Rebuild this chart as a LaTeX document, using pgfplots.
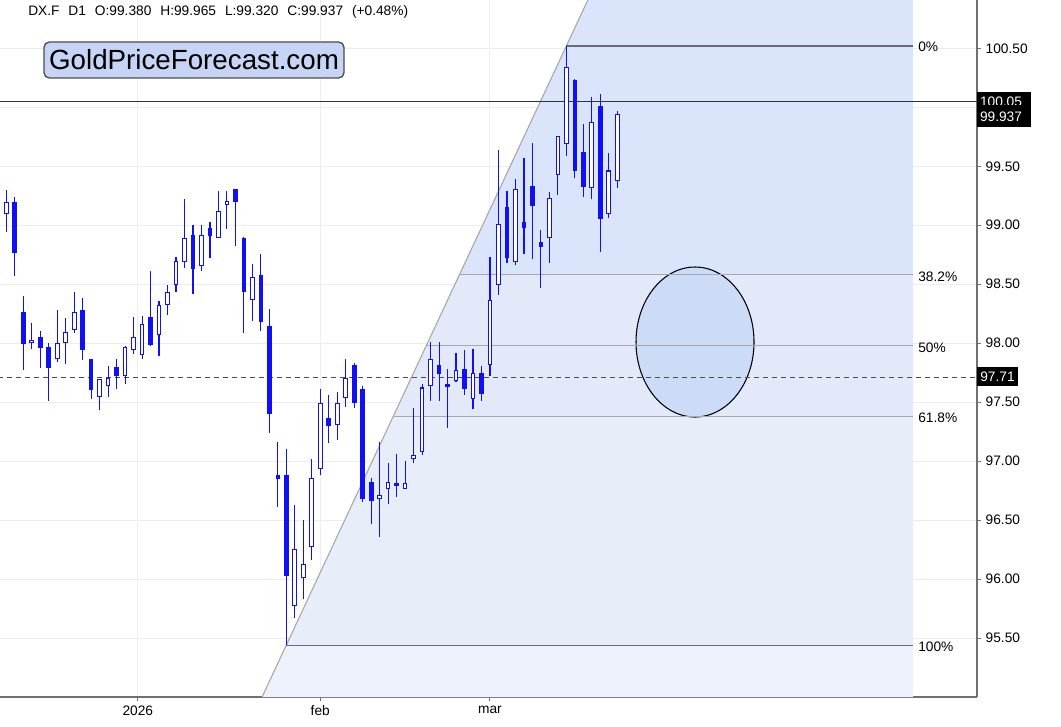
\documentclass[border=0pt]{standalone}
\usepackage{pgfplots}
\pgfplotsset{compat=1.18}
\usepackage{pgfplotstable}
\usepackage{fontspec}
\setmainfont{Liberation Sans}
\definecolor{cblue}{HTML}{1010F5}
\definecolor{bandA}{HTML}{DAE4FA}
\definecolor{bandB}{HTML}{E3E9F9}
\definecolor{bandC}{HTML}{E8EDFA}
\definecolor{bandD}{HTML}{EEF2FC}
\definecolor{ellfill}{HTML}{CCDBF6}
\definecolor{logofill}{HTML}{C6D4F5}
\definecolor{axgray}{HTML}{707070}
\definecolor{fibgray}{HTML}{A4A8B4}
\definecolor{fibdark}{HTML}{6A6A78}

% up (hollow) candles
\pgfplotstableread{
i O H L C
0 99.10 99.30 98.94 99.19
3 98.005 98.17 97.95 98.025
6 97.87 98.28 97.84 98.00
7 98.01 98.21 97.82 98.09
8 98.12 98.43 98.09 98.26
11 97.55 97.69 97.43 97.69
12 97.64 97.81 97.54 97.70
14 97.73 97.98 97.65 97.96
15 97.95 98.22 97.91 98.05
16 97.90 98.23 97.87 98.16
18 98.07 98.36 97.89 98.32
19 98.33 98.49 98.24 98.43
20 98.50 98.73 98.43 98.69
21 98.69 99.22 98.64 98.89
23 98.66 99.00 98.61 98.91
25 98.90 99.29 98.89 99.12
26 99.18 99.29 98.97 99.20
29 98.37 98.67 98.19 98.56
34 95.78 96.63 95.67 96.25
35 96.01 96.50 95.83 96.12
36 96.28 97.02 96.16 96.85
37 96.94 97.61 96.88 97.49
39 97.31 97.59 97.18 97.49
40 97.54 97.87 97.46 97.70
44 96.68 97.16 96.36 96.71
45 96.77 96.98 96.64 96.82
47 96.77 97.00 96.76 96.81
48 97.02 97.45 96.98 97.05
49 97.08 97.65 97.05 97.62
50 97.64 98.01 97.51 97.86
53 97.68 97.92 97.67 97.77
55 97.53 97.95 97.44 97.74
57 97.82 98.73 97.72 98.36
58 98.50 99.64 98.41 99.01
60 98.69 99.39 98.66 99.30
64 98.90 99.28 98.68 99.23
65 99.43 99.75 99.26 99.75
66 99.69 100.52 99.59 100.34
69 99.32 100.09 99.22 99.87
71 99.10 99.61 99.06 99.46
72 99.38 99.965 99.32 99.937
}\upc

% down (filled) candles
\pgfplotstableread{
i O H L C
-1 99.06 99.10 98.90 98.96
1 99.19 99.24 98.57 98.77
2 98.26 98.40 97.77 98.00
4 98.045 98.10 97.79 97.96
5 97.96 98.00 97.51 97.79
9 98.28 98.38 97.86 97.95
10 97.86 97.87 97.53 97.61
13 97.79 97.87 97.61 97.73
17 98.22 98.61 97.98 97.99
22 98.91 99.00 98.42 98.63
24 98.97 99.03 98.72 98.91
27 99.30 99.30 98.82 99.20
28 98.89 98.90 98.09 98.44
30 98.57 98.76 98.10 98.18
31 98.14 98.29 97.24 97.40
32 96.88 97.16 96.61 96.85
33 96.88 97.10 95.44 96.03
38 97.36 97.56 97.15 97.30
41 97.81 97.83 97.45 97.50
42 97.61 97.64 96.65 96.68
43 96.82 96.86 96.47 96.67
46 96.81 97.06 96.70 96.79
51 97.81 98.01 97.51 97.74
52 97.65 97.78 97.28 97.63
54 97.78 97.94 97.56 97.62
56 97.74 97.81 97.51 97.57
59 99.15 99.29 98.68 98.73
61 99.02 99.57 98.76 98.98
62 99.33 99.70 98.71 99.17
63 98.85 98.96 98.47 98.82
67 100.23 100.24 99.40 99.46
68 99.62 99.86 99.24 99.33
70 100.01 100.11 98.77 99.06
}\downc

\pgfplotsset{candle/.style={draw=none, no markers, forget plot,
  error bars/.cd, y dir=plus, y explicit, error mark=none}}

\begin{document}
\begin{tikzpicture}[x=0.75pt,y=0.75pt]
\begin{axis}[
  at={(0,0)}, anchor=south west,
  scale only axis, width=732.75pt, height=522.75pt,
  xmin=-0.742, xmax=114.39, ymin=95.0, ymax=100.91,
  axis x line*=bottom, axis y line*=right,
  axis line style={draw=axgray, line width=0.8pt, -},
  tick style={draw=axgray, line width=0.75pt},
  tick align=outside, major tick length=3pt,
  xtick={15.5,37,57}, xticklabels={2026,feb,mar},
  ytick={95.5,96,96.5,97,97.5,98,98.5,99,99.5,100,100.5},
  y tick label style={/pgf/number format/fixed, /pgf/number format/fixed zerofill, /pgf/number format/precision=2},
  /pgf/number format/assume math mode=true,
  ticklabel style={font=\fontsize{10.3}{12}\selectfont, text=black},
  grid=major, major grid style={draw=black!7, line width=0.75pt},
]
% fib shading bands
\addplot[draw=none, fill=bandA, forget plot] coordinates {(53.39,98.579) (68.53,100.91) (106.85,100.91) (106.85,98.579)} -- cycle;
\addplot[draw=none, fill=bandB, forget plot] coordinates {(45.60,97.38) (53.39,98.579) (106.85,98.579) (106.85,97.38)} -- cycle;
\addplot[draw=none, fill=bandC, forget plot] coordinates {(33,95.44) (45.60,97.38) (106.85,97.38) (106.85,95.44)} -- cycle;
\addplot[draw=none, fill=bandD, forget plot] coordinates {(30.14,95.0) (33,95.44) (106.85,95.44) (106.85,95.0)} -- cycle;
% trend line
\addplot[color=black!35, line width=0.8pt, forget plot] coordinates {(30.14,95.0) (68.53,100.91)};
% ellipse
\draw[draw=black, line width=0.8pt, fill=ellfill] (axis cs:81.16,98.01) ellipse [x radius=44.25pt, y radius=56.25pt];
% fib lines
\addplot[color=fibdark, line width=0.8pt, forget plot] coordinates {(66,100.52) (106.85,100.52)};
\addplot[color=fibgray, line width=0.8pt, forget plot] coordinates {(53.39,98.579) (106.85,98.579)};
\addplot[color=fibgray, line width=0.8pt, forget plot] coordinates {(49.50,97.98) (106.85,97.98)};
\addplot[color=fibgray, line width=0.8pt, forget plot] coordinates {(45.60,97.38) (106.85,97.38)};
\addplot[color=fibdark, line width=0.8pt, forget plot] coordinates {(33,95.44) (106.85,95.44)};
\node[anchor=west, inner sep=0pt, font=\fontsize{10.3}{12}\selectfont] at (axis cs:107.44,100.51) {0\%};
\node[anchor=west, inner sep=0pt, font=\fontsize{10.3}{12}\selectfont] at (axis cs:107.44,98.565) {38.2\%};
\node[anchor=west, inner sep=0pt, font=\fontsize{10.3}{12}\selectfont] at (axis cs:107.44,97.965) {50\%};
\node[anchor=west, inner sep=0pt, font=\fontsize{10.3}{12}\selectfont] at (axis cs:107.44,97.37) {61.8\%};
\node[anchor=west, inner sep=0pt, font=\fontsize{10.3}{12}\selectfont] at (axis cs:107.44,95.43) {100\%};
% horizontal lines
\addplot[color=black!80, line width=0.9pt, forget plot] coordinates {(-1,100.05) (115,100.05)};
\addplot[color=black!70, line width=0.9pt, dash pattern=on 3.75pt off 3pt, forget plot] coordinates {(-1,97.71) (115,97.71)};
% wicks
\addplot[candle, error bar style={draw=cblue, line width=0.85pt}]
  table[x=i, y=L, y error expr={\thisrow{H}-\thisrow{L}}] {\upc};
\addplot[candle, error bar style={draw=cblue, line width=0.85pt}]
  table[x=i, y=L, y error expr={\thisrow{H}-\thisrow{L}}] {\downc};
% down bodies
\addplot[candle, error bar style={draw=cblue, line width=3.5pt, line cap=butt}]
  table[x=i, y expr={\thisrow{C}-0.0042}, y error expr={\thisrow{O}-\thisrow{C}+0.0085}] {\downc};
% up bodies
\addplot[candle, error bar style={draw=cblue, line width=3.5pt, line cap=butt}]
  table[x=i, y expr={\thisrow{O}-0.0042}, y error expr={\thisrow{C}-\thisrow{O}+0.0085}] {\upc};
\addplot[candle, error bar style={draw=white, line width=2.0pt, line cap=butt}]
  table[x=i, y expr={\thisrow{O}+0.0042}, y error expr={max(\thisrow{C}-\thisrow{O}-0.0085,0)}] {\upc};
\end{axis}
% price boxes on the right
\begin{scope}
\clip (977,697-92) rectangle (1031,697-105);
\fill[black] (977,697-92) rectangle (1031,697-113);
\node[white, inner sep=0pt, font=\fontsize{10.3}{12}\selectfont] at (1001,697-102) {100.05};
\end{scope}
\fill[black] (977,697-105) rectangle (1031,697-127);
\node[white, inner sep=0pt, font=\fontsize{10.3}{12}\selectfont] at (1001,697-116.5) {99.937};
\fill[black] (977,697-367) rectangle (1018,697-386);
\node[white, inner sep=0pt, font=\fontsize{10.3}{12}\selectfont] at (997.5,697-377) {97.71};
% header
\node[anchor=west, inner sep=0pt, font=\fontsize{10.3}{12}\selectfont] at (28,697-12) {DX.F\hspace{0.65em}D1\hspace{0.65em}O:99.380\hspace{0.65em}H:99.965\hspace{0.65em}L:99.320\hspace{0.65em}C:99.937\hspace{0.65em}(+0.48\%)};
% logo
\node[draw=black!70, line width=1pt, fill=logofill, rounded corners=4pt, minimum width=225pt, minimum height=27pt, inner sep=0pt, font=\fontsize{20.8}{24}\selectfont] at (194,697-60) {GoldPriceForecast.com};
\pgfresetboundingbox
\useasboundingbox (0,-29) rectangle (1061,697);
\end{tikzpicture}
\end{document}
